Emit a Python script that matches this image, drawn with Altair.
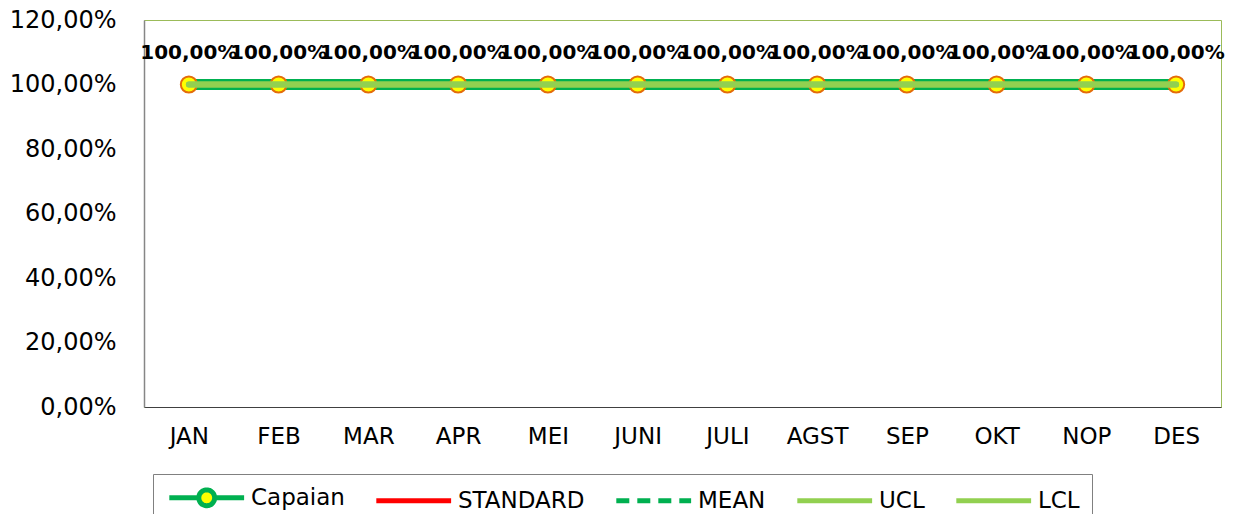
import altair as alt
import pandas as pd

months = ["JAN", "FEB", "MAR", "APR", "MEI", "JUNI", "JULI", "AGST", "SEP", "OKT", "NOP", "DES"]
capaian = [1.0, 1.0, 1.0, 1.0, 1.0, 1.0, 1.0, 1.0, 1.0, 1.0, 1.0, 1.0]
standard = [1.0, 1.0, 1.0, 1.0, 1.0, 1.0, 1.0, 1.0, 1.0, 1.0, 1.0, 1.0]
mean = [1.0, 1.0, 1.0, 1.0, 1.0, 1.0, 1.0, 1.0, 1.0, 1.0, 1.0, 1.0]
ucl = [1.0, 1.0, 1.0, 1.0, 1.0, 1.0, 1.0, 1.0, 1.0, 1.0, 1.0, 1.0]
lcl = [1.0, 1.0, 1.0, 1.0, 1.0, 1.0, 1.0, 1.0, 1.0, 1.0, 1.0, 1.0]
y_ticks = [0.0, 0.2, 0.4, 0.6, 0.8, 1.0, 1.2]

series_names = ["Capaian", "STANDARD", "MEAN", "UCL", "LCL"]
series_values = [capaian, standard, mean, ucl, lcl]
series_colors = ["#00B050", "#FF0000", "#00B050", "#92D050", "#92D050"]
series_dash = [[1, 0], [1, 0], [13, 8], [1, 0], [1, 0]]
series_width = {"Capaian": 11, "STANDARD": 4, "MEAN": 4, "UCL": 6, "LCL": 6}

rows = []
for name, vals in zip(series_names, series_values):
    for i, (m, v) in enumerate(zip(months, vals)):
        rows.append({"month": m, "series": name, "value": v, "order": i})
df = pd.DataFrame(rows)

FONT = "DejaVu Sans"

LINE_PATH = "M-1,0H9.4"
CAP_PATH = "M-1,0H3.1M5.3,0H9.4M5.3,0A1.1,1.1,0,1,1,3.1,0A1.1,1.1,0,1,1,5.3,0Z"
series_shapes = [CAP_PATH, LINE_PATH, LINE_PATH, LINE_PATH, LINE_PATH]

x_enc = alt.X("month:N", sort=months,
              scale=alt.Scale(type="point", padding=0.5),
              axis=alt.Axis(title=None, labelAngle=0, labelFontSize=23, labelFont=FONT,
                            labelColor="#000000", ticks=False, labelPadding=18,
                            domainColor="#404040", domainWidth=1, grid=False))
y_enc = alt.Y("value:Q",
              scale=alt.Scale(domain=[0, 1.2], nice=False, zero=True),
              axis=alt.Axis(title=None, values=y_ticks, labelFontSize=24, labelFont=FONT,
                            labelColor="#000000", ticks=False, labelPadding=28,
                            domainColor="#868686", domainWidth=1.5, grid=False,
                            labelExpr="replace(format(datum.value, '.2%'), '.', ',')"))

leg = alt.Legend(title=None, symbolStrokeWidth=5, symbolOpacity=1, symbolFillColor="#FFFF00")
color_enc = alt.Color("series:N", scale=alt.Scale(domain=series_names, range=series_colors), legend=leg)
stroke_enc = alt.Stroke("series:N", scale=alt.Scale(domain=series_names, range=series_colors), legend=leg)
dash_enc = alt.StrokeDash("series:N", scale=alt.Scale(domain=series_names, range=series_dash), legend=leg)
shape_enc = alt.Shape("series:N", scale=alt.Scale(domain=series_names, range=series_shapes), legend=leg)

base = alt.Chart(df)


def line_for(name):
    return base.transform_filter(alt.datum.series == name).mark_line(
        strokeCap="round", strokeWidth=series_width[name]
    ).encode(x=x_enc, y=y_enc, color=color_enc, strokeDash=dash_enc, order="order:Q")


cap_points = base.transform_filter(alt.datum.series == "Capaian").mark_point(
    filled=True, fill="#FFFF00", stroke="#E46C0A", strokeWidth=2, size=260, opacity=1, shape="circle"
).encode(x=x_enc, y=y_enc)

# invisible layer that only carries the legend symbol shapes (with a yellow marker fill)
shape_carrier = base.mark_point(filled=True, fill="#FFFF00", opacity=0, size=1).encode(
    x=x_enc, y=y_enc, shape=shape_enc, stroke=stroke_enc, strokeDash=dash_enc)

labels = base.transform_filter(alt.datum.series == "Capaian").transform_calculate(
    lab="replace(format(datum.value, '.2%'), '.', ',')"
).mark_text(dy=-32, fontSize=20, fontWeight="bold", font=FONT, color="#000000").encode(
    x=x_enc, y=y_enc, text="lab:N")

chart = alt.layer(
    shape_carrier,
    line_for("STANDARD"), line_for("MEAN"), line_for("Capaian"), cap_points,
    line_for("UCL"), line_for("LCL"), labels
).properties(
    width=1077, height=387,
    autosize=alt.AutoSizeParams(type="none"),
    padding={"left": 136, "top": 12, "right": 7, "bottom": 107},
).configure_view(
    stroke="#9BBB59", strokeWidth=1
).configure_legend(
    orient="none", legendX=9, legendY=454, direction="horizontal", columns=5,
    columnPadding=21, labelFontSize=23, labelFont=FONT, labelColor="#000000",
    symbolType=LINE_PATH, symbolSize=207, symbolStrokeWidth=5, labelOffset=63,
    strokeColor="#808080", padding=12, fillColor="#FFFFFF"
)

chart.save("out.html", embed_options={"renderer": "svg", "actions": False})
